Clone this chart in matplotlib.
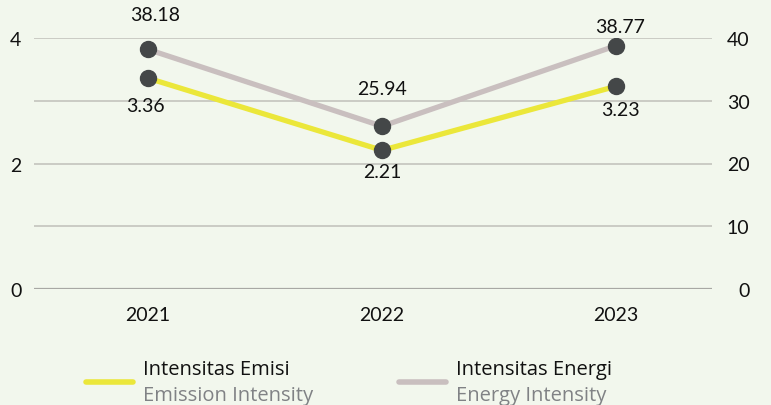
import matplotlib.pyplot as plt
import numpy as np

years = ['2021', '2022', '2023']
emisi = [3.36, 2.21, 3.23]
energi = [38.18, 25.94, 38.77]
left_ticks = [0, 2, 4]
right_ticks = [0, 10, 20, 30, 40]

bg = '#f2f7ed'
yellow = '#ebe73a'
grey = '#c9bfbf'
dot = '#444748'

plt.rcParams['font.family'] = ['Lato', 'DejaVu Sans']

fig = plt.figure(figsize=(7.71, 4.06), dpi=100, facecolor=bg)
ax = fig.add_axes([34 / 771, 116 / 406, 678 / 771, 251 / 406])
ax.set_facecolor(bg)
ax2 = ax.twinx()

x = np.arange(len(years))

# gridlines (left scale)
for g in [1, 2, 3, 4]:
    ax.axhline(g, color='#c4c4be', lw=1.2, zorder=0)
ax.axhline(0, color='#a8a8a4', lw=1.6, zorder=0)

ax.plot(x, emisi, color=yellow, lw=3.8, zorder=2, solid_capstyle='butt')
ax.plot(x, emisi, 'o', color=dot, ms=11.5, zorder=3)
ax2.plot(x, energi, color=grey, lw=3.8, zorder=2, solid_capstyle='butt')
ax2.plot(x, energi, 'o', color=dot, ms=11.5, zorder=3)

# value labels (offsets in points)
emisi_off = [(-2, -20), (0, -15), (3, -17)]
energi_off = [(5, 25), (0, 27), (3, 14)]
for xi, v, off in zip(x, emisi, emisi_off):
    ax.annotate(f'{v:.2f}', (xi, v), xytext=off, textcoords='offset points',
                ha='center', va='center', fontsize=14, color='#111111',
                annotation_clip=False)
for xi, v, off in zip(x, energi, energi_off):
    ax2.annotate(f'{v:.2f}', (xi, v), xytext=off, textcoords='offset points',
                 ha='center', va='center', fontsize=14, color='#111111',
                 annotation_clip=False)

ax.set_xlim(-0.487, 2.41)
ax.set_ylim(0, 4)
ax2.set_ylim(0, 40)
ax.set_xticks(x)
ax.set_xticklabels(years, fontsize=14, color='#111111')
ax.set_yticks(left_ticks)
ax.set_yticklabels([str(t) for t in left_ticks], fontsize=14, color='#111111')
ax2.set_yticks(right_ticks)
ax2.set_yticklabels([str(t) for t in right_ticks], fontsize=14, color='#111111',
                    ha='right')
ax.tick_params(axis='x', length=0, pad=12)
ax.tick_params(axis='y', length=0, pad=9)
ax2.tick_params(axis='y', length=0, pad=27)
for a in (ax, ax2):
    for s in a.spines.values():
        s.set_visible(False)

# legend
items = [(86, 'Intensitas Emisi', 'Emission Intensity', yellow),
         (399, 'Intensitas Energi', 'Energy Intensity', grey)]
for x0, t1, t2, c in items:
    fig.add_artist(plt.Line2D([x0 / 771, 133 / 771 + (x0 - 86) / 771],
                              [1 - 383 / 406, 1 - 383 / 406],
                              color=c, lw=4, solid_capstyle='round'))
    fig.text((x0 + 57) / 771, 1 - 370 / 406, t1, fontsize=14.5,
             family=['Open Sans', 'DejaVu Sans'], color='#111111', va='center')
    fig.text((x0 + 57) / 771, 1 - 396 / 406, t2, fontsize=14.5,
             family=['Open Sans', 'DejaVu Sans'], color='#808285', va='center')

fig.savefig('out.png', dpi=100, facecolor=bg)
